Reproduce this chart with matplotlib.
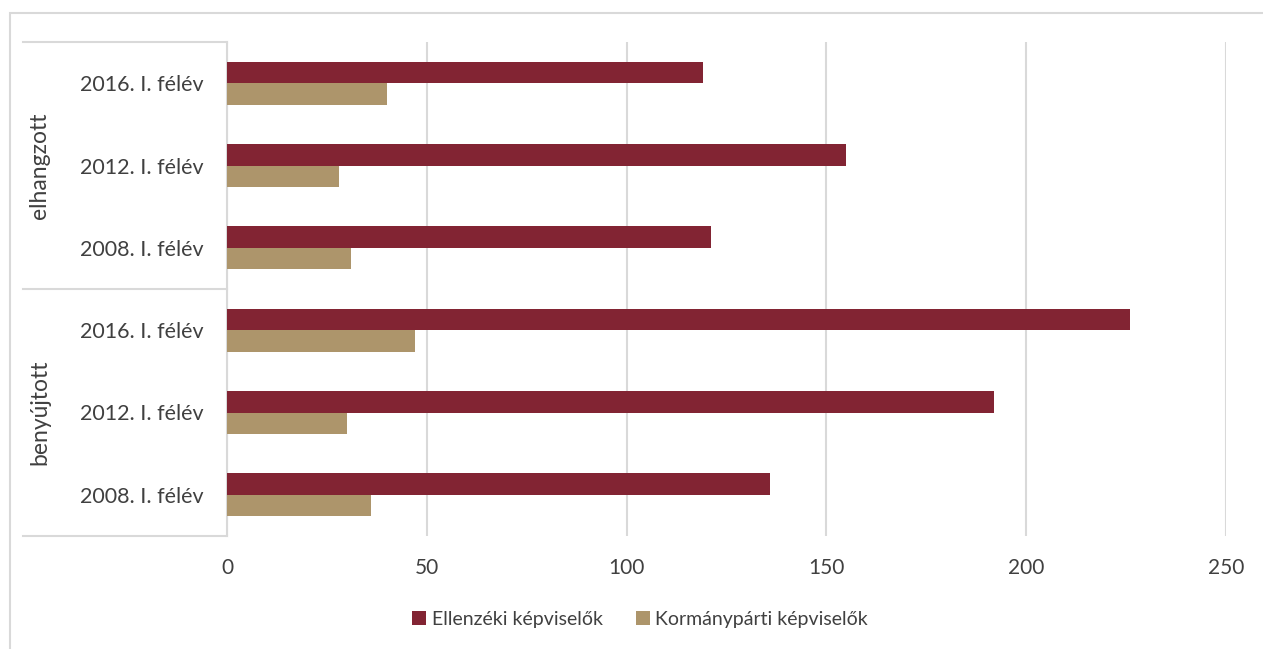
"""Hungarian parliament speeches: opposition vs. governing MPs, horizontal bar chart."""

import matplotlib

matplotlib.use("Agg")

import matplotlib.pyplot as plt  # noqa: E402
import numpy as np  # noqa: E402
from matplotlib.lines import Line2D  # noqa: E402
from matplotlib.patches import Rectangle  # noqa: E402

plt.rcParams["font.family"] = ["Lato", "DejaVu Sans"]

# bottom-to-top order, as matplotlib counts y
groups = ["benyújtott", "elhangzott"]
periods = ["2008. I. félév", "2012. I. félév", "2016. I. félév"]
ellenzeki = [136, 192, 226, 121, 155, 119]
kormanyparti = [36, 30, 47, 31, 28, 40]
x_ticks = [0, 50, 100, 150, 200, 250]

RED = "#822433"
TAN = "#AD956B"
GRID = "#D9D9D9"
TEXT = "#404040"

fig = plt.figure(figsize=(12.63, 6.49), dpi=100)
ax = fig.add_axes([227 / 1263, 1 - 536 / 649, 999 / 1263, 494 / 649])

y = np.arange(len(ellenzeki))
h = 0.26
ax.barh(y + h / 2, ellenzeki, height=h, color=RED, label="Ellenzéki képviselők", zorder=3)
ax.barh(y - h / 2, kormanyparti, height=h, color=TAN, label="Kormánypárti képviselők", zorder=3)

ax.set_xlim(0, 250)
ax.set_ylim(-0.5, len(ellenzeki) - 0.5)
ax.set_xticks(x_ticks)
ax.set_xticklabels([str(t) for t in x_ticks], fontsize=15, color=TEXT)
ax.tick_params(axis="x", length=0, pad=16)
ax.set_yticks(y)
ax.set_yticklabels(periods * len(groups), fontsize=15.5, color=TEXT)
ax.tick_params(axis="y", length=0, pad=17)
ax.grid(axis="x", color=GRID, lw=1.5, zorder=0)
for side in ["top", "right", "bottom"]:
    ax.spines[side].set_visible(False)
ax.spines["left"].set_color(GRID)
ax.spines["left"].set_linewidth(1.5)

# category box lines on the left
x0 = 23 / 1263
for yy in [42, 289, 536]:
    fig.add_artist(Line2D([x0, 227 / 1263], [1 - yy / 649] * 2, color=GRID, lw=1.5))
for i, g in enumerate(groups):
    yc = ax.transData.transform((0, 3 * i + 1))[1] / fig.bbox.height
    fig.text(40 / 1263, yc, g, rotation=90, ha="center", va="center", fontsize=16.5, color=TEXT)

# outer frame, running off the right and bottom edges
fig.add_artist(Rectangle((10 / 1263, -0.05), 1.0, 1.05 - 13 / 649, fill=False,
                         edgecolor=GRID, lw=1.5, transform=fig.transFigure))

fig.legend(loc="center", bbox_to_anchor=(0.507, 1 - 619 / 649), ncol=2, frameon=False,
           fontsize=14, labelcolor=TEXT, handlelength=0.7, handleheight=0.7,
           handletextpad=0.3, columnspacing=1.7)

fig.savefig("out.png", dpi=100)
plt.close(fig)
